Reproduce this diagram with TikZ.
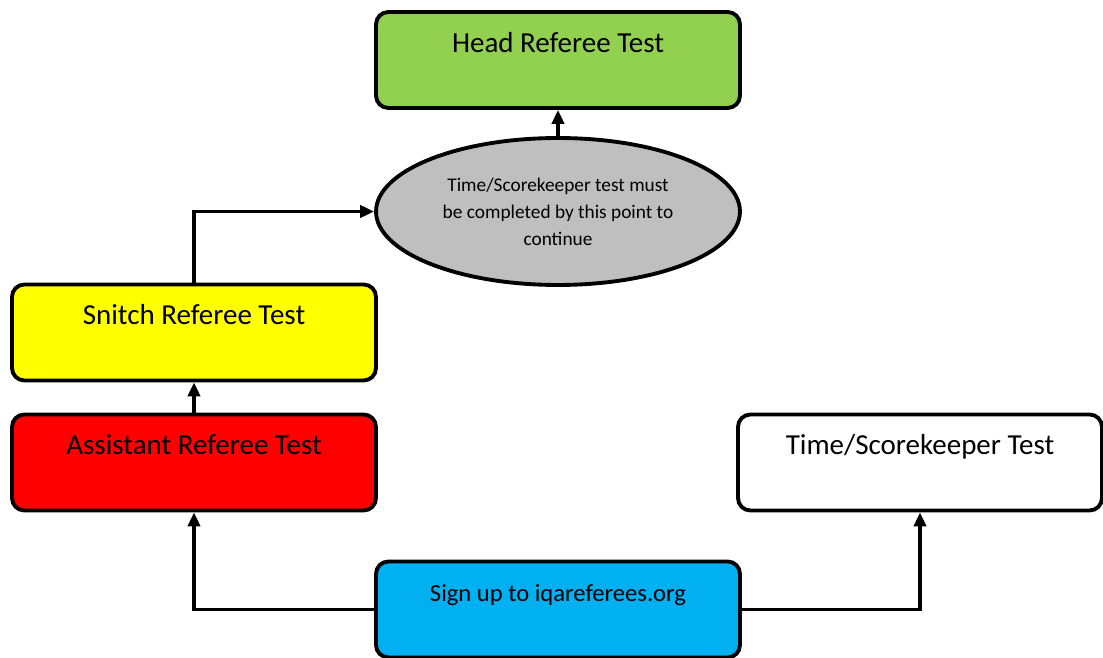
\documentclass[tikz,border=0pt]{standalone}
\usepackage{fontspec}
\setmainfont{Carlito}
\usetikzlibrary{arrows.meta,shapes.geometric}
\definecolor{headgreen}{HTML}{92D050}
\definecolor{checkgray}{HTML}{BFBFBF}
\definecolor{snitchyellow}{HTML}{FFFF00}
\definecolor{assistred}{HTML}{FF0000}
\definecolor{signblue}{HTML}{00B0F0}
\begin{document}
\begin{tikzpicture}[x=0.02cm,y=-0.02cm,
    testbox/.style ={rectangle, draw, line width=2.2pt, rounded corners=7pt,
      minimum width=7.28cm, minimum height=1.92cm, inner sep=0pt,
      font=\fontsize{16.5}{18}\selectfont, text height=11pt, text depth=20pt},
    checkpoint/.style ={ellipse, draw, line width=2.2pt, fill=checkgray,
      minimum width=7.28cm, minimum height=2.94cm, inner sep=0pt, align=center,
      font=\fontsize{11}{15.3}\selectfont},
    link/.style ={line width=1.9pt, -{Triangle[length=8pt,width=7pt]}}]
   \useasboundingbox (0,0) rectangle (1103,658);
   \node[testbox, fill=headgreen] (head) at (558,60) {Head Referee Test};
   \node[checkpoint] (check) at (558,211.5) {Time/Scorekeeper test must\\be completed by this point to\\continue};
   \node[testbox, fill=snitchyellow] (snitch) at (194,332.5) {Snitch Referee Test};
   \node[testbox, fill=assistred] (assist) at (194,462.5) {Assistant Referee Test};
   \node[testbox, fill=white] (time) at (920,462.5) {Time/Scorekeeper Test};
   \node[testbox, fill=signblue, font=\fontsize{14}{16}\selectfont] (sign) at (558,609.5) {Sign up to iqareferees.org};
   \draw[link] (sign.west) -| (assist.south);
   \draw[link] (sign.east) -| (time.south);
   \draw[link] (assist.north) to (snitch.south);
   \draw[link] (snitch.north) |- (check.west);
   \draw[link] (check.north) to (head.south);
 \end{tikzpicture}
\end{document}
